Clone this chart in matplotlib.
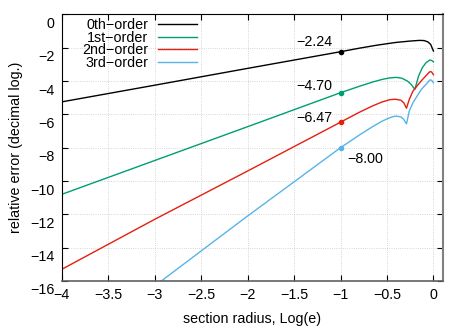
import matplotlib
matplotlib.use('Agg')
import matplotlib.pyplot as plt
import matplotlib.transforms as mtransforms

plt.rcParams['font.family'] = ['Liberation Sans', 'DejaVu Sans']
plt.rcParams['font.size'] = 10.3

# curves (x = log10 of section radius, y = log10 of rel. error)
x0 = [-4, -3, -2, -1, -0.8, -0.6, -0.4, -0.25, -0.15, -0.1, -0.06, -0.03, 0]
y0 = [-5.25, -4.25, -3.24, -2.24, -2.03, -1.84, -1.68, -1.6, -1.56, -1.57, -1.65, -1.8, -2.2]

x1 = [-4, -3, -2, -1, -0.8, -0.65, -0.55, -0.47, -0.4, -0.34, -0.28, -0.24, -0.2,
      -0.16, -0.12, -0.08, -0.04, -0.02, 0]
y1 = [-10.8, -8.77, -6.74, -4.70, -4.32, -4.05, -3.9, -3.81, -3.78, -3.83, -4.0, -4.2, -4.5,
      -3.7, -3.2, -2.9, -2.74, -2.76, -2.85]

x2 = [-4, -3, -2, -1, -0.8, -0.65, -0.55, -0.47, -0.41, -0.35, -0.32, -0.29,
      -0.26, -0.22, -0.17, -0.13, -0.08, -0.04, -0.02, 0]
y2 = [-15.3, -12.3, -9.4, -6.47, -5.88, -5.48, -5.25, -5.12, -5.09, -5.15, -5.3, -5.63,
      -5.1, -4.6, -4.25, -3.98, -3.68, -3.44, -3.45, -3.62]

x3 = [-4, -3, -2, -1, -0.8, -0.65, -0.55, -0.47, -0.41, -0.35, -0.32, -0.29,
      -0.26, -0.22, -0.17, -0.13, -0.08, -0.04, -0.02, 0]
y3 = [-20.0, -16.3, -12.1, -8.0, -7.25, -6.72, -6.4, -6.2, -6.1, -6.15, -6.3, -6.57,
      -5.8, -5.3, -4.85, -4.5, -4.2, -3.94, -3.95, -4.1]

labels = ['0th\u2212order', '1st\u2212order', '2nd\u2212order', '3rd\u2212order']
colors = ['#000000', '#009e73', '#e51e10', '#56b4e9']

# values marked at log(e) = -1
mark_x = -1
mark_y = [-2.24, -4.70, -6.47, -8.00]
mark_txt = ['\u22122.24', '\u22124.70', '\u22126.47', '\u22128.00']

xt = [-4, -3.5, -3, -2.5, -2, -1.5, -1, -0.5, 0]
yt = list(range(-16, 1, 2))

fig = plt.figure(figsize=(4.69, 3.28), dpi=100)
ax = fig.add_axes([0.1316, 0.1433, 0.8124, 0.8128])

for xs, ys, lab, c in zip([x0, x1, x2, x3], [y0, y1, y2, y3], labels, colors):
    ax.plot(xs, ys, color=c, lw=1.0, label=lab)

offs = [(-6, 7), (-6, 4.5), (-6, 3), (5, -8)]
for yv, t, c, o in zip(mark_y, mark_txt, colors, offs):
    ax.plot([mark_x], [yv], 'o', color=c, ms=3)
    ax.annotate(t, (mark_x, yv), xytext=o, textcoords='offset points',
                ha='right' if o[0] < 0 else 'left', va='center')

ax.set_xlim(-4, 0.1)
ax.set_ylim(-16, 0)
ax.set_xticks(xt)
ax.set_xticklabels([('%g' % v).replace('-', '\u2212') for v in xt])
ax.set_yticks(yt)
ax.set_yticklabels([('%g' % v).replace('-', '\u2212') for v in yt])
ax.tick_params(direction='in', top=True, right=True, length=4, width=0.8, pad=5)
# y tick labels sit a bit below their ticks in the original
shift = mtransforms.ScaledTranslation(0, -8 / 100, fig.dpi_scale_trans)
for lbl in ax.get_yticklabels():
    lbl.set_transform(lbl.get_transform() + shift)

ax.grid(True, ls=':', lw=0.6, color='#c8c8c8')
ax.spines['right'].set_color('#808080')
ax.spines['right'].set_linewidth(1.5)
ax.spines['bottom'].set_color('#606060')
ax.spines['bottom'].set_linewidth(1.2)

ax.set_xlabel('section radius, Log(e)', labelpad=7)
ax.set_ylabel('relative error (decimal log.)', labelpad=5)

ax.legend(loc='upper left', frameon=False, markerfirst=False, handlelength=2.7,
          handletextpad=0.65, labelspacing=-0.09, borderaxespad=0.2, bbox_to_anchor=(0.032, 1.019))

fig.savefig('out.png', dpi=100)
